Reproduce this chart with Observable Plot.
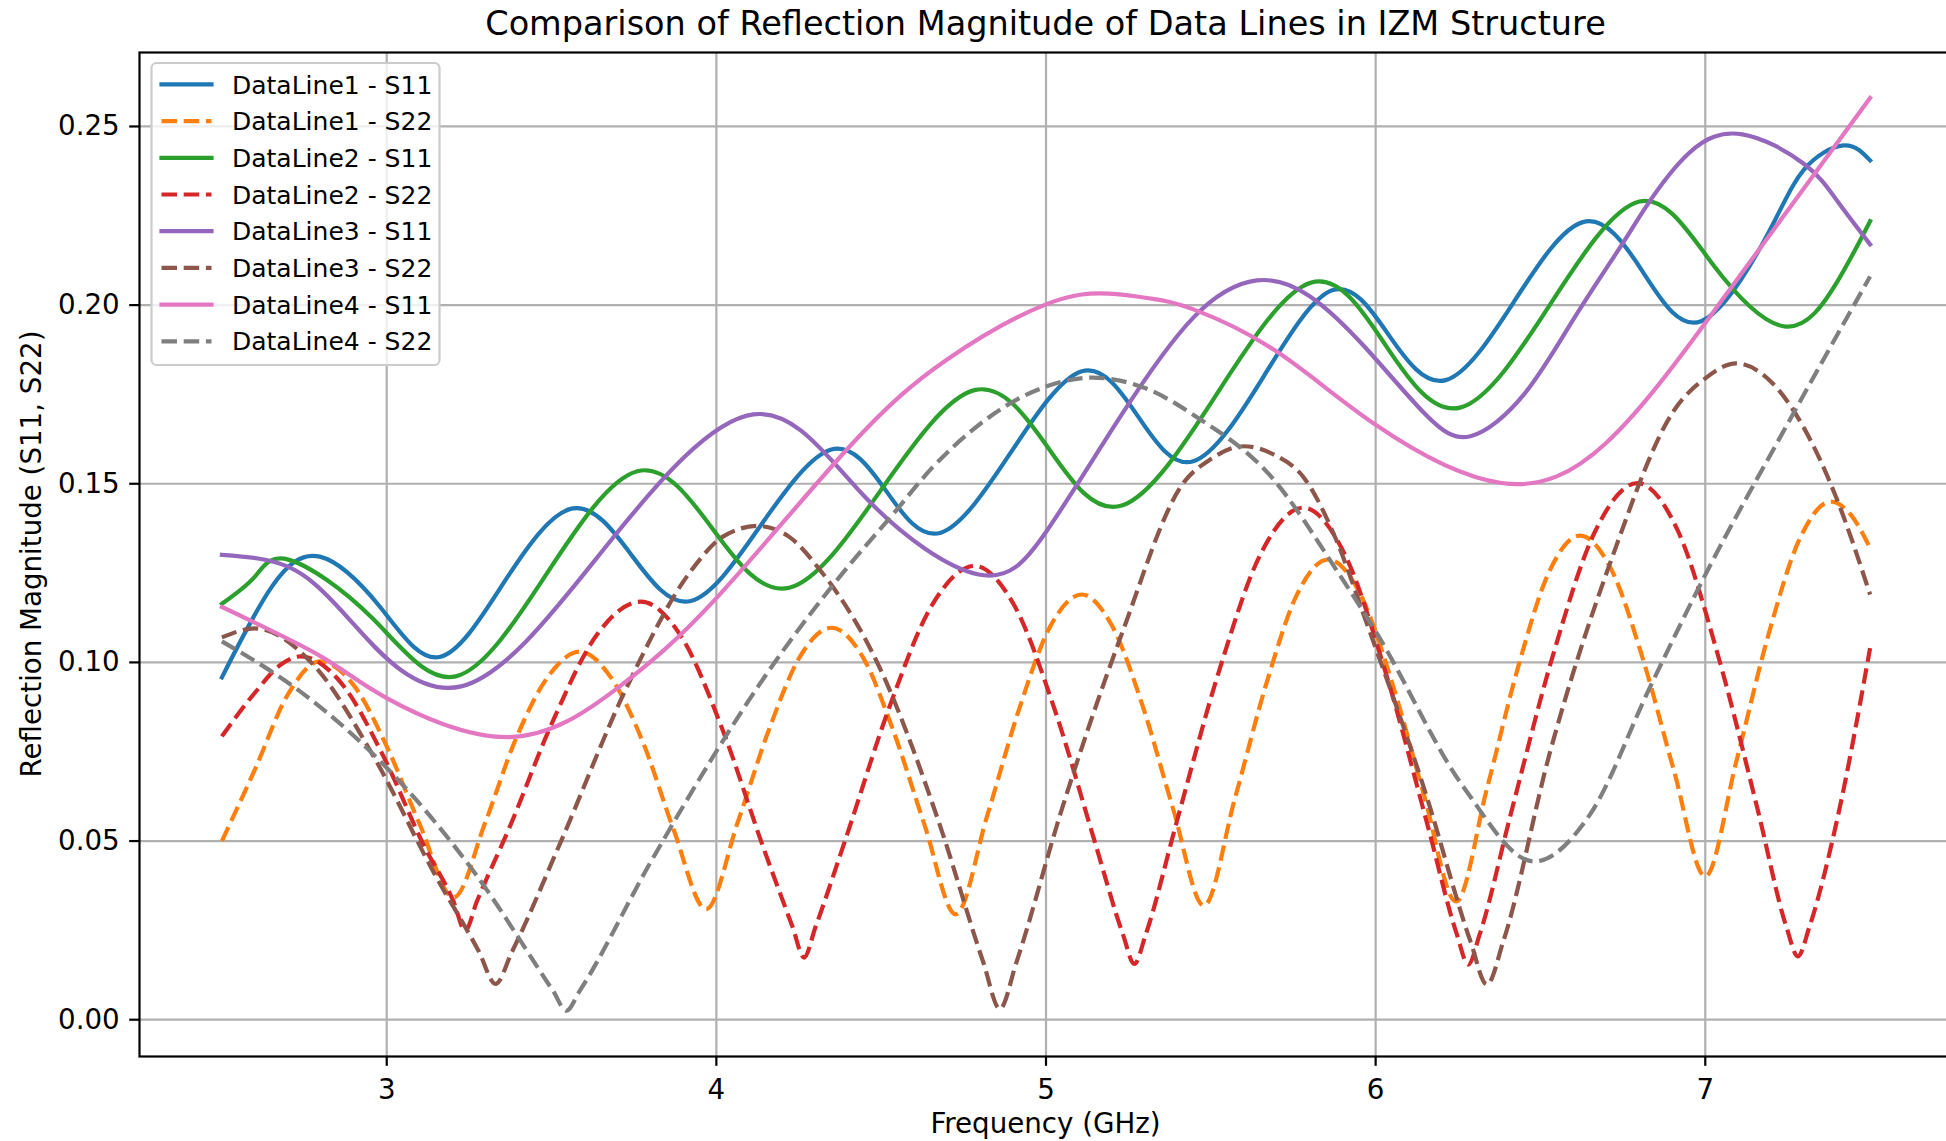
<!DOCTYPE html>
<html>
<head>
<meta charset="utf-8">
<script src="https://cdn.jsdelivr.net/npm/d3@7"></script>
<script src="https://cdn.jsdelivr.net/npm/@observablehq/plot@0.6"></script>
<style>
html, body { margin: 0; padding: 0; background: #fff; }
#wrap { position: relative; width: 1946px; height: 1141px; overflow: hidden; background: #fff; }
#wrap svg { display: block; }
</style>
</head>
<body>
<div id="wrap"></div>
<script>
// ---------- data ----------
const titleText = "Comparison of Reflection Magnitude of Data Lines in IZM Structure";
const xLabelText = "Frequency (GHz)";
const yLabelText = "Reflection Magnitude (S11, S22)";
const xTicks = [3, 4, 5, 6, 7];
const yTicks = [0.00, 0.05, 0.10, 0.15, 0.20, 0.25];

const seriesNames = ["DataLine1 - S11", "DataLine1 - S22", "DataLine2 - S11", "DataLine2 - S22",
                     "DataLine3 - S11", "DataLine3 - S22", "DataLine4 - S11", "DataLine4 - S22"];

const dl1S11Freq = [2.5, 2.65, 2.797, 2.98, 3.16, 3.36, 3.564, 3.743, 3.922, 4.135, 4.349, 4.515, 4.681, 4.895, 5.109, 5.278, 5.447, 5.66, 5.87, 6.04, 6.2125, 6.42, 6.631, 6.81, 6.9875, 7.19, 7.3, 7.42, 7.5];
const dl1S11Mag  = [0.0958, 0.121, 0.1296, 0.1155, 0.1015, 0.123, 0.1431, 0.130, 0.1172, 0.1384, 0.1596, 0.148, 0.1363, 0.159, 0.1815, 0.169, 0.1563, 0.180, 0.2042, 0.1916, 0.179, 0.201, 0.2233, 0.2094, 0.1955, 0.220, 0.238, 0.2447, 0.2405];

const dl1S22Freq = [2.5, 2.6, 2.7, 2.797, 2.899, 3.0, 3.10, 3.203, 3.30, 3.39, 3.49, 3.586, 3.68, 3.78, 3.87, 3.969, 4.065, 4.16, 4.255, 4.349, 4.443, 4.537, 4.632, 4.726, 4.822, 4.918, 5.013, 5.109, 5.2, 5.294, 5.386, 5.479, 5.573, 5.668, 5.762, 5.856, 5.953, 6.05, 6.147, 6.244, 6.338, 6.432, 6.526, 6.62, 6.715, 6.81, 6.905, 7.0, 7.095, 7.19, 7.286, 7.381, 7.44, 7.5];
const dl1S22Mag  = [0.050, 0.070, 0.091, 0.1003, 0.0937, 0.0765, 0.0547, 0.0342, 0.0555, 0.0782, 0.0961, 0.103, 0.0958, 0.077, 0.0533, 0.0309, 0.0553, 0.0813, 0.1018, 0.1097, 0.1017, 0.0808, 0.0544, 0.0295, 0.0572, 0.0868, 0.1101, 0.119, 0.1103, 0.0876, 0.0589, 0.0319, 0.0619, 0.0939, 0.1191, 0.1288, 0.1192, 0.0943, 0.0628, 0.0331, 0.0648, 0.0986, 0.1253, 0.1355, 0.126, 0.1012, 0.0697, 0.0401, 0.0726, 0.1072, 0.1345, 0.145, 0.1415, 0.132];

const dl2S11Freq = [2.5, 2.6, 2.704, 2.956, 3.209, 3.485, 3.76, 3.99, 4.221, 4.502, 4.783, 5.007, 5.23, 5.518, 5.805, 6.03, 6.256, 6.528, 6.8, 7.022, 7.244, 7.4, 7.5];
const dl2S11Mag  = [0.1164, 0.124, 0.1287, 0.1124, 0.0961, 0.1248, 0.1535, 0.1372, 0.1209, 0.1486, 0.1762, 0.160, 0.1439, 0.1751, 0.2063, 0.1888, 0.1713, 0.200, 0.229, 0.2115, 0.194, 0.2065, 0.2235];

const dl2S22Freq = [2.5, 2.6, 2.68, 2.739, 2.864, 2.988, 3.113, 3.203, 3.238, 3.273, 3.371, 3.505, 3.638, 3.771, 3.895, 4.019, 4.142, 4.231, 4.266, 4.301, 4.395, 4.525, 4.654, 4.783, 4.904, 5.026, 5.147, 5.233, 5.268, 5.303, 5.396, 5.524, 5.652, 5.78, 5.905, 6.03, 6.156, 6.246, 6.281, 6.316, 6.409, 6.537, 6.666, 6.794, 6.916, 7.037, 7.159, 7.246, 7.281, 7.316, 7.4, 7.5];
const dl2S22Mag  = [0.0793, 0.0915, 0.0995, 0.1017, 0.094, 0.0741, 0.0487, 0.033, 0.0249, 0.033, 0.0535, 0.0838, 0.1078, 0.117, 0.107, 0.0811, 0.0483, 0.026, 0.0174, 0.026, 0.0514, 0.0875, 0.116, 0.127, 0.1159, 0.0869, 0.0501, 0.024, 0.0156, 0.024, 0.0552, 0.0973, 0.1305, 0.1433, 0.1305, 0.0973, 0.055, 0.024, 0.0154, 0.024, 0.0572, 0.1017, 0.1367, 0.1502, 0.137, 0.1025, 0.0588, 0.026, 0.0177, 0.026, 0.056, 0.104];

const dl3S11Freq = [2.5, 2.7, 2.89, 3.226, 3.67, 4.112, 4.454, 4.796, 5.0, 5.22, 5.447, 5.639, 5.8, 5.97, 6.15, 6.2875, 6.45, 6.6, 6.744, 6.82, 6.95, 7.1125, 7.3, 7.4, 7.5];
const dl3S11Mag  = [0.1301, 0.1268, 0.1117, 0.0933, 0.133, 0.1694, 0.146, 0.1246, 0.1365, 0.168, 0.1965, 0.2069, 0.2025, 0.188, 0.1695, 0.1633, 0.175, 0.196, 0.2165, 0.2275, 0.2425, 0.2478, 0.2395, 0.2292, 0.217];

const dl3S22Freq = [2.5, 2.6, 2.775, 2.96, 3.145, 3.28, 3.33, 3.38, 3.529, 3.728, 3.926, 4.02, 4.125, 4.22, 4.309, 4.493, 4.676, 4.81, 4.86, 4.91, 5.045, 5.23, 5.415, 5.5, 5.6, 5.69, 5.784, 5.88, 5.969, 6.153, 6.2875, 6.3375, 6.3875, 6.527, 6.716, 6.905, 7.0, 7.094, 7.2, 7.3, 7.4, 7.5];
const dl3S22Mag  = [0.107, 0.1095, 0.0996, 0.0737, 0.0408, 0.019, 0.010, 0.019, 0.050, 0.093, 0.126, 0.1352, 0.1382, 0.1352, 0.1265, 0.099, 0.055, 0.016, 0.003, 0.016, 0.058, 0.108, 0.150, 0.1569, 0.1605, 0.1582, 0.1515, 0.1344, 0.112, 0.063, 0.022, 0.0098, 0.022, 0.0742, 0.129, 0.1705, 0.1795, 0.1837, 0.1785, 0.1655, 0.1455, 0.119];

const dl4S11Freq = [2.5, 2.8, 3.0, 3.371, 3.7, 4.0, 4.4, 4.7, 5.0, 5.19, 5.32, 5.447, 5.7, 6.0, 6.381, 6.7, 7.0, 7.25, 7.5];
const dl4S11Mag  = [0.1155, 0.1017, 0.090, 0.0791, 0.0928, 0.118, 0.160, 0.1848, 0.2002, 0.2032, 0.2018, 0.1988, 0.187, 0.1665, 0.1502, 0.1615, 0.195, 0.2265, 0.258];

const dl4S22Freq = [2.5, 2.75, 3.0, 3.27, 3.505, 3.545, 3.585, 3.8, 4.18, 4.41, 4.527, 4.655, 4.783, 4.91, 5.0, 5.14, 5.3, 5.46, 5.677, 5.89, 6.0, 6.269, 6.481, 6.65, 6.831, 7.0, 7.25, 7.5];
const dl4S22Mag  = [0.1059, 0.091, 0.0705, 0.0407, 0.008, 0.0025, 0.008, 0.044, 0.1004, 0.128, 0.1405, 0.1545, 0.1655, 0.1735, 0.1772, 0.1797, 0.1768, 0.1685, 0.1526, 0.1246, 0.1087, 0.0648, 0.0443, 0.0574, 0.0928, 0.1245, 0.1668, 0.208];

// ---------- styling ----------
const seriesColors = ["#1f77b4", "#ff7f0e", "#2ca02c", "#d62728", "#9467bd", "#8c564b", "#e377c2", "#7f7f7f"];
const seriesDashed = [false, true, false, true, false, true, false, true];
const seriesCurve  = ["natural", "monotone-x", "natural", "monotone-x", "natural", "monotone-x", "natural", "monotone-x"];
const FONT = '"DejaVu Sans", "Liberation Sans", sans-serif';
const LW = 4.2, DASH = "15.5,6.7";

const seriesFreq = [dl1S11Freq, dl1S22Freq, dl2S11Freq, dl2S22Freq, dl3S11Freq, dl3S22Freq, dl4S11Freq, dl4S22Freq];
const seriesMag  = [dl1S11Mag, dl1S22Mag, dl2S11Mag, dl2S22Mag, dl3S11Mag, dl3S22Mag, dl4S11Mag, dl4S22Mag];
const seriesRows = seriesFreq.map((fs, i) => fs.map((f, j) => ({freq: f, mag: seriesMag[i][j]})));

const W = 1946, H = 1141;
const lineMarks = seriesRows.map((rows, i) => Plot.line(rows, {
  x: "freq", y: "mag", stroke: seriesColors[i], strokeWidth: LW,
  strokeDasharray: seriesDashed[i] ? DASH : null,
  strokeLinecap: seriesDashed[i] ? "butt" : "square",
  strokeLinejoin: "round", curve: seriesCurve[i]
}));

const chart = Plot.plot({
  width: W, height: H,
  marginLeft: 139, marginRight: -6, marginTop: 52, marginBottom: 85,
  x: {domain: [2.25, 7.75], label: null},
  y: {domain: [-0.0103, 0.2707], label: null},
  style: {fontFamily: FONT, fontSize: "27.7px", color: "black", background: "white", overflow: "hidden"},
  marks: [
    Plot.gridX(xTicks, {stroke: "#b0b0b0", strokeOpacity: 1, strokeWidth: 2.2}),
    Plot.gridY(yTicks, {stroke: "#b0b0b0", strokeOpacity: 1, strokeWidth: 2.2}),
    ...lineMarks,
    Plot.frame({stroke: "black", strokeWidth: 2.2}),
    Plot.axisX(xTicks, {tickSize: 9.8, tickPadding: 12.8, tickFormat: d => String(d), stroke: "black", strokeWidth: 2.2, fontSize: 27.7, label: null}),
    Plot.axisY(yTicks, {tickSize: 9.8, tickPadding: 10, tickFormat: d3.format(".2f"), stroke: "black", strokeWidth: 2.2, fontSize: 27.7, label: null})
  ]
});
const wrap = document.getElementById("wrap");
chart.style.position = "absolute"; chart.style.left = "0px"; chart.style.top = "0px";
wrap.appendChild(chart);

// ---------- overlay: title, axis labels, legend ----------
const ov = d3.select(wrap).append("svg")
  .attr("width", W).attr("height", H)
  .style("position", "absolute").style("left", "0px").style("top", "0px")
  .style("font-family", FONT);

ov.append("text").attr("x", 1045.5).attr("y", 35.3).attr("text-anchor", "middle")
  .attr("font-size", 33.5).attr("fill", "black").text(titleText);
ov.append("text").attr("x", 1045.5).attr("y", 1133).attr("text-anchor", "middle")
  .attr("font-size", 27.7).attr("fill", "black").text(xLabelText);
ov.append("text").attr("transform", "translate(40.5,554) rotate(-90)").attr("text-anchor", "middle")
  .attr("font-size", 27.7).attr("fill", "black").text(yLabelText);

const lg = ov.append("g");
lg.append("rect").attr("x", 151.5).attr("y", 63).attr("width", 288).attr("height", 302)
  .attr("rx", 5).attr("fill", "white").attr("fill-opacity", 0.8)
  .attr("stroke", "#cccccc").attr("stroke-width", 2.2);
seriesNames.forEach((name, i) => {
  const cy = 84.4 + i * 36.7;
  lg.append("line").attr("x1", 161.5).attr("x2", 211.5).attr("y1", cy).attr("y2", cy)
    .attr("stroke", seriesColors[i]).attr("stroke-width", LW)
    .attr("stroke-dasharray", seriesDashed[i] ? DASH : null)
    .attr("stroke-linecap", seriesDashed[i] ? "butt" : "square");
  lg.append("text").attr("x", 232).attr("y", cy + 9.1).attr("font-size", 25)
    .attr("fill", "black").text(name);
});
</script>
</body>
</html>
